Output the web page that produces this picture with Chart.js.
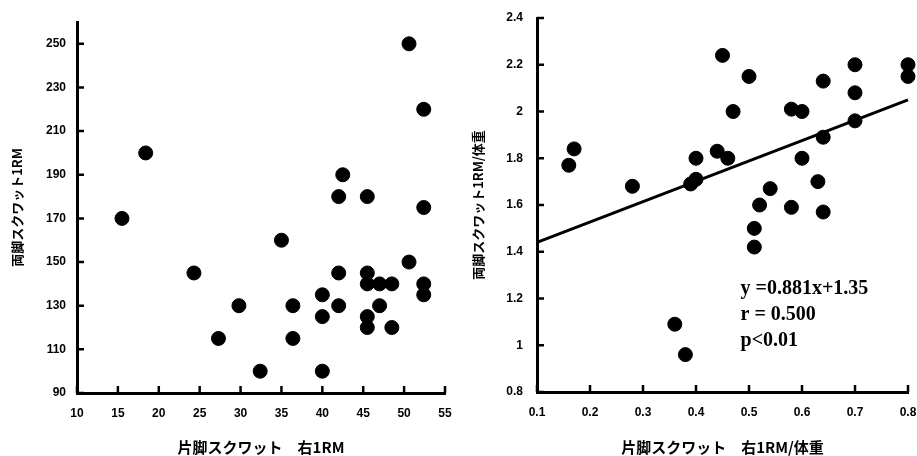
<!DOCTYPE html>
<html>
<head>
<meta charset="utf-8">
<script src="https://cdn.jsdelivr.net/npm/chart.js@4.4.0/dist/chart.umd.min.js"></script>
<style>
  html, body { margin: 0; padding: 0; background: #fff; overflow: hidden; }
  #wrap { position: relative; width: 917px; height: 456px; overflow: hidden; }
  #leftBox { position: absolute; left: 0; top: 0; width: 460px; height: 456px; }
  #rightBox { position: absolute; left: 460px; top: 0; width: 470px; height: 456px; }
</style>
</head>
<body>
<div id="wrap">
  <div id="leftBox"><canvas id="leftChart" width="460" height="456"></canvas></div>
  <div id="rightBox"><canvas id="rightChart" width="470" height="456"></canvas></div>
</div>
<script>
// left: absolute 1RM
var leftX = [50.6, 52.4, 18.4, 42.5, 42, 45.5, 52.4, 15.5, 35, 50.6, 24.3, 42, 45.5, 45.5, 47, 48.5, 52.4, 52.4, 40, 29.8, 36.4, 42, 47, 40, 45.5, 45.5, 48.5, 27.3, 36.4, 32.4, 40];
var leftY = [250, 220, 200, 190, 180, 180, 175, 170, 160, 150, 145, 145, 145, 140, 140, 140, 140, 135, 135, 130, 130, 130, 130, 125, 125, 120, 120, 115, 115, 100, 100];
var leftXTicks = [10, 15, 20, 25, 30, 35, 40, 45, 50, 55];
var leftYTicks = [90, 110, 130, 150, 170, 190, 210, 230, 250];

// right: 1RM / body weight
var rightX = [0.16, 0.17, 0.28, 0.39, 0.40, 0.40, 0.44, 0.46, 0.45, 0.47, 0.50, 0.51, 0.51, 0.52, 0.54, 0.58, 0.60, 0.58, 0.60, 0.63, 0.64, 0.64, 0.64, 0.70, 0.70, 0.70, 0.80, 0.80, 0.36, 0.38];
var rightY = [1.77, 1.84, 1.68, 1.69, 1.71, 1.80, 1.83, 1.80, 2.24, 2.00, 2.15, 1.50, 1.42, 1.60, 1.67, 2.01, 2.00, 1.59, 1.80, 1.70, 1.57, 1.89, 2.13, 2.20, 2.08, 1.96, 2.20, 2.15, 1.09, 0.96];
var rightXTicks = [0.1, 0.2, 0.3, 0.4, 0.5, 0.6, 0.7, 0.8];
var rightXLabels = ['0.1', '0.2', '0.3', '0.4', '0.5', '0.6', '0.7', '0.8'];
var rightYTicks = [0.8, 1.0, 1.2, 1.4, 1.6, 1.8, 2.0, 2.2, 2.4];
var rightYLabels = ['0.8', '1', '1.2', '1.4', '1.6', '1.8', '2', '2.2', '2.4'];
var fitX = [0.1, 0.8];
var fitY = [1.44, 2.05];
var statLines = ['y =0.881x+1.35', 'r = 0.500', 'p<0.01'];

function toPoints(xs, ys) {
    return xs.map(function (x, i) { return { x: x, y: ys[i] }; });
}

var tickFont = { family: "'Liberation Sans', Arial, sans-serif", size: 12, weight: 'bold' };
var cjkFont = "'Noto Sans CJK JP', 'Liberation Serif', sans-serif";

// short tick marks pointing into the plot
var innerTicks = {
    id: 'innerTicks',
    afterDraw: function (chart) {
        var ctx = chart.ctx, area = chart.chartArea;
        var xs = chart.scales.x, ys = chart.scales.y;
        ctx.save();
        ctx.strokeStyle = '#000';
        ctx.lineWidth = 2.5;
        ctx.beginPath();
        xs.ticks.forEach(function (t) {
            var px = xs.getPixelForValue(t.value);
            ctx.moveTo(px, area.bottom);
            ctx.lineTo(px, area.bottom - 7);
        });
        ys.ticks.forEach(function (t) {
            var py = ys.getPixelForValue(t.value);
            ctx.moveTo(area.left, py);
            ctx.lineTo(area.left + 7, py);
        });
        ctx.stroke();
        ctx.restore();
    }
};

var statText = {
    id: 'statText',
    afterDraw: function (chart) {
        if (chart.canvas.id !== 'rightChart') return;
        var ctx = chart.ctx;
        var x0 = chart.scales.x.getPixelForValue(0.484);
        var y0 = chart.scales.y.getPixelForValue(1.24);
        ctx.save();
        ctx.fillStyle = '#000';
        ctx.font = "bold 20px 'Liberation Serif', 'Times New Roman', serif";
        ctx.textBaseline = 'middle';
        statLines.forEach(function (s, i) {
            ctx.fillText(s, x0, y0 + i * 26);
        });
        ctx.restore();
    }
};

function axis(opts) {
    return {
        type: 'linear',
        min: opts.min,
        max: opts.max,
        afterBuildTicks: function (scale) {
            scale.ticks = opts.ticks.map(function (v) { return { value: v }; });
        },
        afterFit: function (scale) {
            if (scale.isHorizontal()) scale.height = opts.size; else scale.width = opts.size;
        },
        grid: { display: false, drawTicks: true, tickLength: 8 },
        border: { display: true, width: 3, color: '#000' },
        ticks: {
            color: '#000',
            font: tickFont,
            padding: opts.pad,
            autoSkip: false,
            maxRotation: 0,
            callback: function (v, i) { return opts.labels ? opts.labels[i] : String(v); }
        },
        title: {
            display: true,
            text: opts.title,
            color: '#000',
            font: { family: cjkFont, size: opts.titleSize, weight: 'bold' },
            padding: opts.titlePad
        }
    };
}

new Chart(document.getElementById('leftChart').getContext('2d'), {
    type: 'scatter',
    data: {
        datasets: [{
            data: toPoints(leftX, leftY),
            backgroundColor: '#000',
            borderColor: '#000',
            pointRadius: 7,
            pointHoverRadius: 7,
            clip: false
        }]
    },
    options: {
        responsive: false,
        animation: false,
        events: [],
        layout: { padding: { left: 0, top: 22, right: 15, bottom: 0 } },
        plugins: { legend: { display: false }, tooltip: { enabled: false } },
        scales: {
            x: axis({ min: 10, max: 55, ticks: leftXTicks, size: 63, pad: 5, title: '片脚スクワット　右1RM', titleSize: 15, titlePad: { top: 4, bottom: 0 } }),
            y: axis({ min: 90, max: 260, ticks: leftYTicks, size: 77, pad: 3, title: '両脚スクワット1RM', titleSize: 13, titlePad: { top: 9, bottom: 0 } })
        }
    },
    plugins: [innerTicks]
});

new Chart(document.getElementById('rightChart').getContext('2d'), {
    type: 'scatter',
    data: {
        datasets: [{
            data: toPoints(rightX, rightY),
            backgroundColor: '#000',
            borderColor: '#000',
            pointRadius: 7,
            pointHoverRadius: 7,
            clip: false
        }, {
            type: 'line',
            data: toPoints(fitX, fitY),
            borderColor: '#000',
            borderWidth: 3,
            pointRadius: 0,
            fill: false,
            clip: false
        }]
    },
    options: {
        responsive: false,
        animation: false,
        events: [],
        layout: { padding: { left: 0, top: 18, right: 22, bottom: 0 } },
        plugins: { legend: { display: false }, tooltip: { enabled: false } },
        scales: {
            x: axis({ min: 0.1, max: 0.8, ticks: rightXTicks, labels: rightXLabels, size: 64, pad: 5, title: '片脚スクワット　右1RM/体重', titleSize: 15, titlePad: { top: 4, bottom: 0 } }),
            y: axis({ min: 0.8, max: 2.4, ticks: rightYTicks, labels: rightYLabels, size: 77, pad: 6, title: '両脚スクワット1RM/体重', titleSize: 13, titlePad: { top: 10, bottom: 0 } })
        }
    },
    plugins: [innerTicks, statText]
});
</script>
</body>
</html>
